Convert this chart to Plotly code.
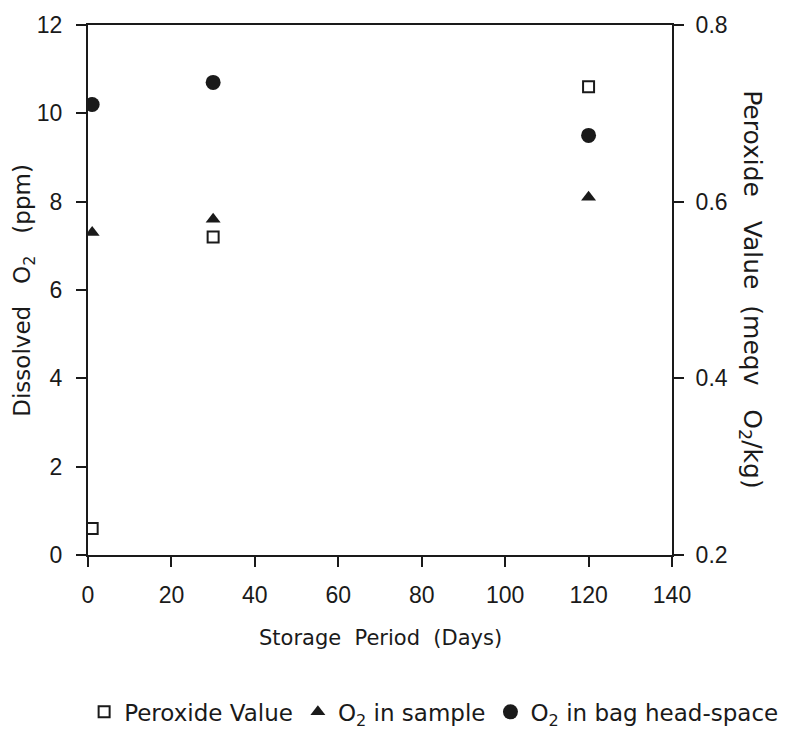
import plotly.graph_objects as go

# Data
days = [1, 30, 120]
peroxide_value = [0.23, 0.56, 0.73]      # meqv O2/kg (right axis)
o2_in_sample = [7.3, 7.6, 8.1]           # ppm (left axis)
o2_in_headspace = [10.2, 10.7, 9.5]      # ppm (left axis)

x_ticks = [0, 20, 40, 60, 80, 100, 120, 140]
y_left_ticks = [0, 2, 4, 6, 8, 10, 12]
y_right_ticks = [0.2, 0.4, 0.6, 0.8]

INK = "#1a1a1a"
TICK_FONT = dict(family="Liberation Sans, Arial, sans-serif", size=23, color=INK)
TITLE_FONT = dict(family="DejaVu Sans, sans-serif", size=21, color=INK)

fig = go.Figure()
fig.add_trace(go.Scatter(
    x=days, y=peroxide_value, yaxis="y2", mode="markers",
    name="Peroxide Value",
    marker=dict(symbol="square-open", size=11, color=INK, line=dict(width=2, color=INK)),
))
fig.add_trace(go.Scatter(
    x=days, y=o2_in_sample, mode="markers",
    name="O<sub>2</sub> in sample",
    marker=dict(symbol="triangle-up", size=13, color=INK),
))
fig.add_trace(go.Scatter(
    x=days, y=o2_in_headspace, mode="markers",
    name="O<sub>2</sub> in bag head-space",
    marker=dict(symbol="circle", size=15, color=INK),
))

axis_common = dict(
    showgrid=False, zeroline=False, showline=True, linecolor=INK, linewidth=2,
    ticks="outside", ticklen=10, tickwidth=1.5, tickcolor=INK, tickfont=TICK_FONT,
    automargin=False,
)

fig.update_layout(
    width=779, height=724,
    margin=dict(l=80, r=115, t=17, b=177, autoexpand=False),
    paper_bgcolor="white", plot_bgcolor="white",
    showlegend=True,
    legend=dict(
        orientation="h", x=1.192, xanchor="right", y=-0.296, yanchor="middle",
        font=dict(family="DejaVu Sans, sans-serif", size=23, color=INK),
        itemwidth=30, tracegroupgap=0, bgcolor="rgba(0,0,0,0)",
    ),
    xaxis=dict(range=[0, 140], tickvals=x_ticks, mirror=True, ticklabelstandoff=8,
               **axis_common),
    yaxis=dict(range=[0, 12], tickvals=y_left_ticks, ticklabelstandoff=9, **axis_common),
    yaxis2=dict(range=[0.2, 0.8], tickvals=y_right_ticks, tickformat=".1f",
                ticklabelstandoff=7, overlaying="y", side="right", anchor="x",
                **axis_common),
    annotations=[
        dict(text="Storage  Period  (Days)", xref="paper", yref="paper",
             x=0.5, y=-0.157, xanchor="center", yanchor="middle",
             showarrow=False, font=TITLE_FONT),
        dict(text="Dissolved   O<sub>2</sub>   (ppm)", xref="paper", yref="paper",
             x=-0.110, y=0.5, xanchor="center", yanchor="middle", textangle=-90,
             showarrow=False, font=dict(TITLE_FONT, size=23)),
        dict(text="Peroxide   Value  (meqv   O<sub>2</sub>/kg)", xref="paper", yref="paper",
             x=1.135, y=0.5, xanchor="center", yanchor="middle", textangle=90,
             showarrow=False, font=dict(TITLE_FONT, size=25)),
    ],
)

fig.write_html("out.html")
